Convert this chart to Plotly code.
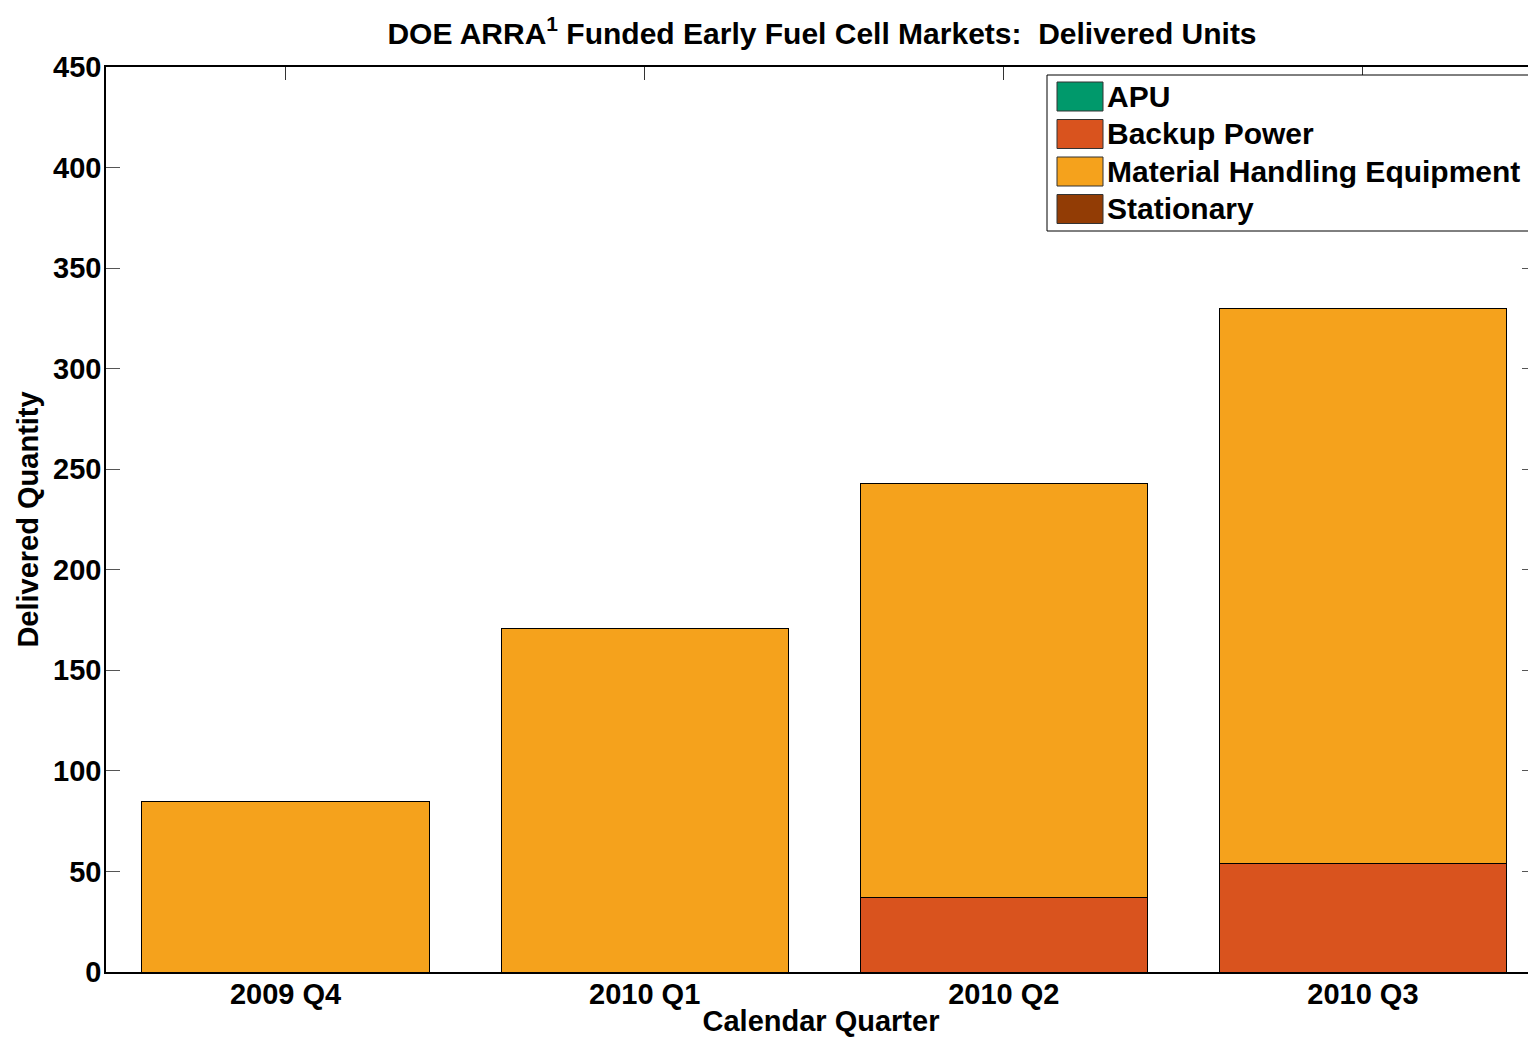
import plotly.graph_objects as go

# ---- data ----
quarters = ["2009 Q4", "2010 Q1", "2010 Q2", "2010 Q3"]
series_names = ["APU", "Backup Power", "Material Handling Equipment", "Stationary"]
apu = [0, 0, 0, 0]
backup_power = [0, 0, 37, 54]
material_handling = [85, 171, 206, 276]
stationary = [0, 0, 0, 0]
y_ticks = [0, 50, 100, 150, 200, 250, 300, 350, 400, 450]

colors = ["#00996B", "#D9531E", "#F5A21C", "#923C05"]
values = [apu, backup_power, material_handling, stationary]

FONT = "Liberation Sans, Arial, sans-serif"
OFF = 8  # default body margin of the html page
W, H = 1536 - OFF, 1037 - OFF
# plot area in window pixels: x 106..1536, y 67..972
L, R, T, B = 106 - OFF, 0, 67 - OFF, (1037 - 972)
PW, PH = W - L - R, H - T - B


def px2paper_x(px):  # px in window coordinates
    return (px - OFF - L) / PW


def px2paper_y(py):
    return (H - B - (py - OFF)) / PH


bold = dict(family=FONT, size=29, color="#000000", weight="bold")

fig = go.Figure()
for name, vals, col in zip(series_names, values, colors):
    fig.add_trace(go.Bar(
        x=quarters, y=vals, name=name,
        marker=dict(color=col, line=dict(color="#000000", width=1)),
        width=0.8, showlegend=False,
    ))

# custom legend (box, swatches, labels)
shapes = [dict(type="rect", xref="paper", yref="paper",
               x0=px2paper_x(1047), x1=px2paper_x(1535),
               y0=px2paper_y(231), y1=px2paper_y(75),
               line=dict(color="#000000", width=1), fillcolor="#ffffff", layer="above")]
annotations = []
row_tops = [82, 119.5, 157, 194.5]
for name, col, top in zip(series_names, colors, row_tops):
    shapes.append(dict(type="rect", xref="paper", yref="paper",
                       x0=px2paper_x(1057), x1=px2paper_x(1103),
                       y0=px2paper_y(top + 29), y1=px2paper_y(top),
                       line=dict(color="#333333", width=1), fillcolor=col, layer="above"))
    annotations.append(dict(xref="paper", yref="paper",
                            x=px2paper_x(1105), y=px2paper_y(top + 14.5),
                            xanchor="left", yanchor="middle", showarrow=False,
                            text=name, font=dict(family=FONT, size=30, color="#000000", weight="bold")))

# footnote (mostly cut off at the bottom edge)
annotations.append(dict(xref="paper", yref="paper",
                        x=px2paper_x(1080), y=px2paper_y(1031),
                        xanchor="left", yanchor="top", showarrow=False,
                        text="<sup>1</sup>American Recovery and Reinvestment Act",
                        font=dict(family=FONT, size=29, color="#888888", weight="bold")))

fig.update_layout(
    width=W, height=H,
    margin=dict(l=L, r=R, t=T, b=B, autoexpand=False),
    barmode="stack",
    paper_bgcolor="#ffffff", plot_bgcolor="#ffffff",
    font=bold,
    title=dict(text="DOE ARRA<sup>1</sup> Funded Early Fuel Cell Markets:&nbsp; Delivered Units",
               x=px2paper_x(822), xref="paper", xanchor="center",
               y=1 - (33 - OFF) / H, yref="container", yanchor="middle",
               font=dict(family=FONT, size=30, color="#000000", weight="bold")),
    xaxis=dict(
        range=[-0.5, 3.482], type="category",
        showline=True, linecolor="#000000", linewidth=1.5, mirror="ticks",
        ticks="inside", ticklen=13, tickcolor="#333333", tickwidth=1,
        showgrid=False, zeroline=False, layer="below traces",
        tickfont=bold, ticklabelstandoff=-5,
        title=dict(text="Calendar Quarter", standoff=11, font=bold),
    ),
    yaxis=dict(
        range=[0, 450], tickvals=y_ticks,
        showline=True, linecolor="#000000", linewidth=1.5, mirror="ticks",
        ticks="inside", ticklen=14, tickcolor="#555555", tickwidth=1,
        showgrid=False, zeroline=False, layer="below traces",
        tickfont=bold, ticklabelstandoff=-3,
        title=dict(text="Delivered Quantity", standoff=6, font=bold),
    ),
    shapes=shapes,
    annotations=annotations,
    showlegend=False,
)

fig.write_html("out.html")
